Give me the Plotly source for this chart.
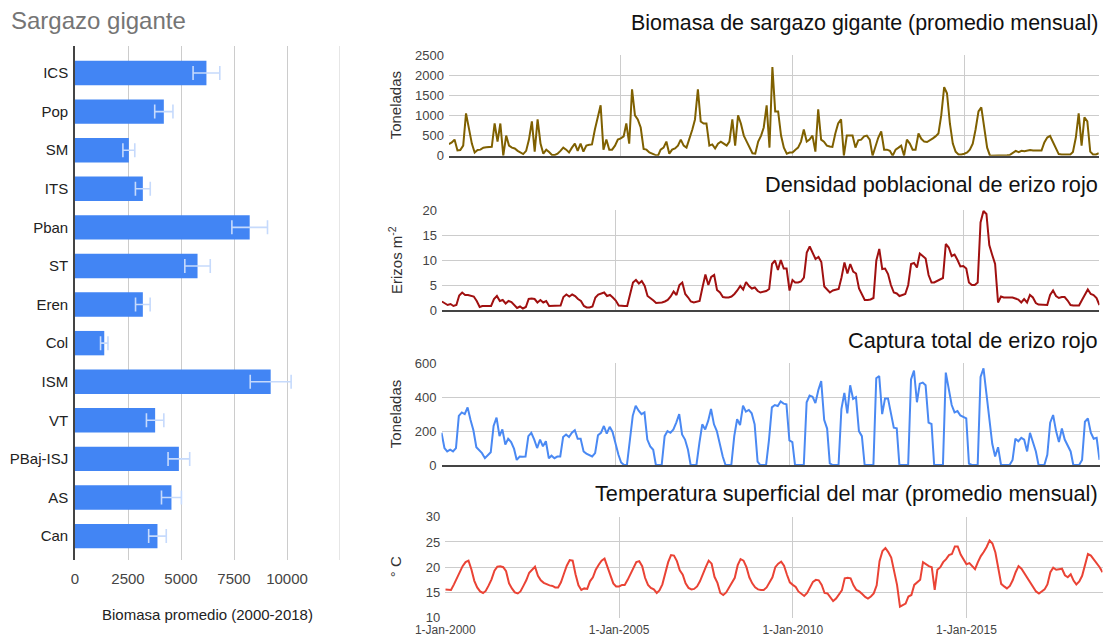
import pandas as pd
import plotly.graph_objects as go

W, H = 1106, 639


def fx(p):
    return p / W


def fy(p):
    return 1 - p / H


# ---------------- Left chart data ----------------
sites = ["ICS", "Pop", "SM", "ITS", "Pban", "ST", "Eren", "Col", "ISM", "VT",
         "PBaj-ISJ", "AS", "Can"]
biomasa_media = [6200, 4190, 2540, 3200, 8240, 5780, 3200, 1380, 9230, 3780,
                 4900, 4550, 3890]
biomasa_error = [630, 430, 280, 350, 840, 600, 345, 175, 965, 410,
                 510, 470, 415]
bar_ticks = [0, 2500, 5000, 7500, 10000]
bar_tick_text = ["0", "2500", "5000", "7500", "10000"]
bar_grid = [12500]

# ---------------- Right charts data (monthly, Jan-2000 .. Dec-2018) ----------------
months = pd.date_range("2000-01-01", "2018-12-01", freq="MS")

biomasa_mensual = [
    290, 330, 400, 130, 140, 250, 1050, 650, 300, 80,
    140, 150, 200, 210, 210, 220, 800, 350, 800, 0,
    500, 250, 200, 180, 120, 80, 40, 120, 400, 850,
    100, 900, 300, 50, 150, 90, 20, 20, 50, 120,
    200, 150, 80, 200, 300, 120, 300, 100, 250, 270,
    280, 650, 950, 1250, 150, 400, 150, 150, 250, 400,
    430, 480, 800, 300, 1650, 1000, 900, 700, 170, 150,
    80, 40, 20, 0, 150, 200, 350, 50, 150, 180,
    250, 400, 250, 200, 400, 650, 900, 1650, 850, 800,
    800, 250, 280, 180, 300, 350, 300, 250, 350, 900,
    250, 1000, 800, 500, 350, 200, 60, 50, 350, 500,
    700, 1250, 200, 2200, 1100, 1100, 500, 200, 50, 80,
    80, 150, 200, 350, 650, 350, 400, 500, 100, 1150,
    400, 350, 250, 230, 220, 550, 800, 900, 0, 500,
    500, 500, 200, 380, 400, 480, 500, 400, 0, 250,
    450, 600, 150, 150, 120, 0, 150, 200, 250, 0,
    400, 300, 150, 150, 550, 420, 350, 340, 380, 430,
    480, 550, 1000, 1700, 1550, 800, 300, 100, 30, 30,
    50, 80, 150, 300, 650, 1100, 1200, 750, 200, 0,
    0, 0, 0, 0, 0, 10, 20, 80, 120, 90,
    120, 110, 130, 140, 130, 130, 120, 130, 330, 450,
    490, 330, 170, 40, 30, 30, 30, 30, 90, 450,
    1050, 250, 950, 850, 100, 30, 30, 60,
]

densidad_erizo = [
    1.7, 1.4, 1.0, 1.2, 0.8, 1.0, 2.9, 3.5, 3.0, 3.0,
    2.8, 2.7, 1.8, 0.6, 0.8, 0.8, 0.8, 0.8, 2.2, 2.8,
    1.8, 2.0, 1.3, 1.8, 1.6, 1.0, 0.4, 0.7, 0.3, 0.6,
    2.2, 2.3, 2.2, 1.5, 2.0, 1.5, 1.8, 0.8, 0.8, 0.8,
    0.8, 0.9, 2.6, 3.1, 2.7, 3.1, 2.8, 2.2, 1.8, 0.8,
    0.5, 0.5, 0.7, 2.5, 3.1, 3.3, 3.5, 2.8, 3.0, 2.5,
    1.9, 0.9, 0.8, 0.8, 0.8, 3.5, 5.5, 6.0, 5.3, 5.8,
    4.8, 2.8, 2.4, 1.9, 1.4, 1.4, 1.5, 1.7, 2.0, 2.7,
    3.7, 3.0, 5.0, 5.5, 3.2, 2.5, 1.7, 1.5, 1.6, 1.8,
    4.5, 7.1, 5.0, 6.6, 7.0, 4.0, 3.5, 2.6, 2.5, 2.5,
    2.7, 3.2, 3.9, 4.8, 4.1, 5.6, 4.8, 4.3, 4.5, 3.8,
    3.5, 3.6, 3.8, 4.2, 9.2, 9.9, 8.0, 10.0, 8.3, 8.3,
    3.9, 6.0, 5.5, 5.5, 5.7, 6.5, 11.5, 12.7, 11.5, 10.2,
    10.6, 9.6, 4.7, 4.1, 3.5, 3.9, 4.0, 4.2, 6.5, 9.5,
    7.3, 9.2, 7.7, 7.3, 4.3, 3.2, 2.0, 2.0, 2.1, 2.4,
    9.9, 12.2, 8.2, 8.3, 7.2, 5.0, 3.5, 3.3, 2.8, 3.0,
    3.2, 5.0, 9.2, 9.4, 8.5, 11.3, 10.7, 10.3, 7.0, 5.5,
    5.5, 5.8, 6.1, 6.4, 13.2, 12.5, 10.8, 11.1, 10.0, 8.7,
    8.8, 8.3, 5.5, 5.0, 5.0, 5.5, 17.5, 19.8, 19.2, 13.0,
    11.0, 9.2, 1.5, 2.7, 2.5, 2.5, 2.5, 2.5, 2.3, 2.1,
    1.5, 2.2, 1.5, 3.0, 2.5, 1.4, 1.1, 1.1, 1.1, 1.0,
    3.0, 3.9, 2.8, 2.4, 2.6, 2.6, 1.9, 1.0, 0.9, 0.9,
    0.9, 2.0, 3.0, 4.1, 3.2, 3.0, 2.4, 1.0,
]

captura_erizo = [
    190, 100, 80, 90, 80, 100, 290, 310, 300, 340,
    265, 205, 105, 85, 70, 40, 55, 75, 230, 280,
    170, 210, 120, 155, 135, 95, 30, 50, 48, 50,
    170, 190, 150, 100, 150, 110, 140, 40, 55, 40,
    50, 50, 165, 180, 165, 190, 205, 155, 155, 80,
    67, 60, 50, 70, 175, 190, 230, 185, 225, 195,
    120, 60, 15, 0, 0, 140, 290, 350, 320, 300,
    310, 150, 110, 90, 0, 0, 0, 170, 200, 190,
    210, 250, 300, 180, 150, 90, 0, 0, 0, 130,
    240, 210, 260, 330, 240, 200, 120, 50, 0, 0,
    0, 170, 270, 236, 350, 315, 325, 305, 240, 20,
    0, 0, 0, 150, 340, 354, 348, 375, 362, 358,
    145, 135, 0, 0, 0, 0, 370, 410, 403, 365,
    443, 495, 266, 215, 10, 0, 0, 0, 330, 425,
    305, 470, 390, 400, 200, 170, 0, 0, 0, 0,
    512, 525, 300, 393, 393, 310, 220, 216, 0, 0,
    0, 0, 505, 557, 370, 480, 486, 470, 250, 242,
    0, 0, 0, 0, 545, 445, 354, 310, 318, 292,
    285, 275, 8, 0, 0, 0, 520, 570, 420, 290,
    125, 50, 105, 0, 0, 0, 0, 30, 155, 140,
    160, 150, 80, 190, 140, 80, 0, 0, 0, 60,
    250, 295, 200, 135, 215, 150, 110, 80, 0, 0,
    0, 30, 255, 275, 190, 155, 160, 30,
]

temperatura_mar = [
    15.6, 15.6, 15.5, 16.6, 17.8, 19.0, 20.2, 21.0, 21.3, 19.6,
    17.3, 16.0, 15.2, 14.9, 15.3, 16.4, 17.6, 19.3, 20.1, 20.2,
    20.0, 19.2, 16.8, 15.8, 15.0, 14.8, 15.2, 16.3, 17.4, 18.9,
    19.4, 20.1, 18.3, 17.4, 16.9, 16.6, 16.4, 16.3, 16.0, 16.0,
    17.0, 18.7, 20.3, 21.4, 21.3, 18.6, 16.4, 15.5, 15.8, 15.7,
    17.2, 18.0, 19.5, 20.5, 21.3, 21.7, 20.0, 18.5, 16.8, 16.2,
    16.2, 16.5, 16.5, 17.5, 18.7, 20.0, 21.0, 21.2, 20.2, 17.9,
    16.5, 15.9, 15.6, 14.9, 15.4, 16.6, 18.6, 21.0, 22.4, 22.3,
    21.2, 19.4, 18.5, 16.8, 15.9, 15.6, 15.7, 16.2, 17.2, 18.8,
    20.0, 21.3, 20.7, 18.1, 16.9, 14.9, 14.5, 15.0, 16.0, 16.9,
    17.9, 20.4, 21.6, 21.3, 20.0, 18.0, 16.8, 16.0, 15.6, 15.5,
    15.5, 16.0, 17.0, 18.0, 20.0, 20.7, 21.1, 20.3, 18.5, 17.0,
    16.5, 16.1, 15.2, 14.7, 14.3, 14.9, 15.9, 17.1, 17.5, 17.4,
    16.5, 14.9, 14.8, 14.1, 13.3, 13.8, 14.7, 15.4, 17.8, 17.9,
    17.8, 16.4, 15.5, 15.2, 14.7, 14.1, 13.8, 14.2, 14.8, 16.4,
    21.2, 23.2, 23.8, 23.0, 21.9, 18.9, 16.5, 12.2, 12.5, 12.8,
    14.2, 14.5, 16.5, 17.0, 17.5, 21.0, 20.5, 20.2, 20.0, 15.5,
    19.5, 20.0, 21.0, 21.6, 22.4, 22.6, 24.1, 24.1, 22.5, 21.5,
    20.6, 20.8, 20.2, 19.6, 21.0, 22.2, 23.0, 24.0, 25.3, 24.7,
    22.9, 20.0, 16.7, 16.2, 15.8, 16.3, 17.4, 19.0, 20.2, 19.7,
    18.8, 17.8, 16.8, 16.0, 15.2, 14.8, 15.1, 15.6, 16.6, 19.0,
    19.9, 19.5, 19.6, 19.7, 18.4, 18.0, 18.6, 17.3, 16.6, 17.2,
    18.3, 20.8, 22.6, 22.3, 21.5, 20.9, 20.0, 19.0,
]

date_ticks = ["2000-01-01", "2005-01-01", "2010-01-01", "2015-01-01"]
date_tick_text = ["1-Jan-2000", "1-Jan-2005", "1-Jan-2010", "1-Jan-2015"]

FONT = "Liberation Sans, Arial, sans-serif"
GRID = "#cccccc"

fig = go.Figure()

# Left bar chart
fig.add_trace(go.Bar(
    x=biomasa_media, y=sites, orientation="h",
    marker=dict(color="#4285f4", line=dict(width=0)),
    error_x=dict(type="data", array=biomasa_error, color="#c6dafc",
                 thickness=1.6, width=7),
    xaxis="x", yaxis="y", showlegend=False,
))

panels = [
    # (values, color, y range, dtick, x px left, x px right, y px top, y px bottom)
    (biomasa_mensual, "#7f6000", [0, 2500], 500, 448.9, 1098.8, 55.0, 155.7),
    (densidad_erizo, "#a01010", [0, 20], 5, 441.9, 1099.4, 210.0, 310.0),
    (captura_erizo, "#4a89f3", [0, 600], 200, 441.5, 1099.5, 363.3, 465.0),
    (temperatura_mar, "#ea4335", [10, 30], 5, 445.3, 1102.5, 516.7, 617.7),
]

layout_axes = {}
for i, (vals, color, yr, dt, xl, xr, yt, yb) in enumerate(panels, start=2):
    fig.add_trace(go.Scatter(
        x=months, y=vals, mode="lines",
        line=dict(color=color, width=2),
        xaxis=f"x{i}", yaxis=f"y{i}", showlegend=False,
    ))
    last = (i == 5)
    layout_axes[f"xaxis{i}"] = dict(
        domain=[fx(xl), fx(xr)], anchor=f"y{i}", type="date",
        range=["2000-01-01", "2018-12-01"],
        tickmode="array", tickvals=date_ticks, ticktext=date_tick_text,
        showticklabels=last, ticks="",
        tickfont=dict(family=FONT, size=12, color="#444"),
        ticklabelstandoff=3, automargin=False,
        showgrid=True, gridcolor=GRID, gridwidth=1,
        zeroline=False,
        showline=not last, linecolor="#444", linewidth=1.6,
        fixedrange=True,
    )
    layout_axes[f"yaxis{i}"] = dict(
        domain=[fy(yb), fy(yt)], anchor=f"x{i}", range=yr, dtick=dt,
        tick0=yr[0], showgrid=True, gridcolor=GRID, gridwidth=1,
        zeroline=False, ticks="", automargin=False,
        tickfont=dict(family=FONT, size=13, color="#444"),
        ticklabelstandoff=4, fixedrange=True,
    )

fig.update_layout(
    width=W, height=639, autosize=False,
    margin=dict(l=0, r=0, t=0, b=0, autoexpand=False),
    paper_bgcolor="white", plot_bgcolor="white",
    font=dict(family=FONT, color="#222"),
    bargap=0.368,
    xaxis=dict(
        domain=[fx(75), fx(340)], anchor="y", range=[0, 12500],
        tickmode="array", tickvals=bar_ticks, ticktext=bar_tick_text,
        showgrid=True, gridcolor=GRID, gridwidth=1, zeroline=False,
        ticks="", tickfont=dict(family=FONT, size=15, color="#444"),
        ticklabelstandoff=8, automargin=False, fixedrange=True,
    ),
    yaxis=dict(
        domain=[fy(560), fy(46)], anchor="x", type="category",
        range=[12.62, -0.70], showgrid=False, zeroline=False, ticks="",
        tickfont=dict(family=FONT, size=15, color="#222"),
        ticklabelstandoff=2, showline=True, linecolor="#444", linewidth=1.6,
        automargin=False, fixedrange=True,
    ),
    **layout_axes,
)

# extra unlabeled gridline at the right edge of the bar chart
for g in bar_grid:
    fig.add_shape(type="line", xref="x", yref="paper", x0=g, x1=g,
                  y0=fy(560), y1=fy(46), line=dict(color=GRID, width=1), layer="below")

ann = []
ann.append(dict(text="Sargazo gigante", x=fx(9), y=fy(20), xref="paper", yref="paper",
                xanchor="left", yanchor="middle", showarrow=False,
                font=dict(family=FONT, size=24, color="#757575")))
ann.append(dict(text="Biomasa promedio (2000-2018)", x=fx(207.5), y=fy(614.5),
                xref="paper", yref="paper", xanchor="center", yanchor="middle",
                showarrow=False, font=dict(family=FONT, size=15, color="#222")))

titles = [
    ("Biomasa de sargazo gigante (promedio mensual)", 23.5, 21.4),
    ("Densidad poblacional de erizo rojo", 185, 21.7),
    ("Captura total de erizo rojo", 340, 21.7),
    ("Temperatura superficial del mar (promedio mensual)", 494, 21.7),
]
for t, yc, fs in titles:
    ann.append(dict(text=t, x=fx(1100), y=fy(yc), xref="paper", yref="paper",
                    xanchor="right", yanchor="middle", showarrow=False,
                    font=dict(family=FONT, size=fs, color="#111")))

ytitles = ["Toneladas", "Erizos m<sup>-2</sup>", "Toneladas", "° C"]
for t, (vals, color, yr, dt, xl, xr, yt, yb) in zip(ytitles, panels):
    ann.append(dict(text=t, x=fx(395), y=fy((yt + yb) / 2), xref="paper", yref="paper",
                    xanchor="center", yanchor="middle", textangle=-90, showarrow=False,
                    font=dict(family=FONT, size=15, color="#333")))

fig.update_layout(annotations=ann)

fig.write_html("out.html")
